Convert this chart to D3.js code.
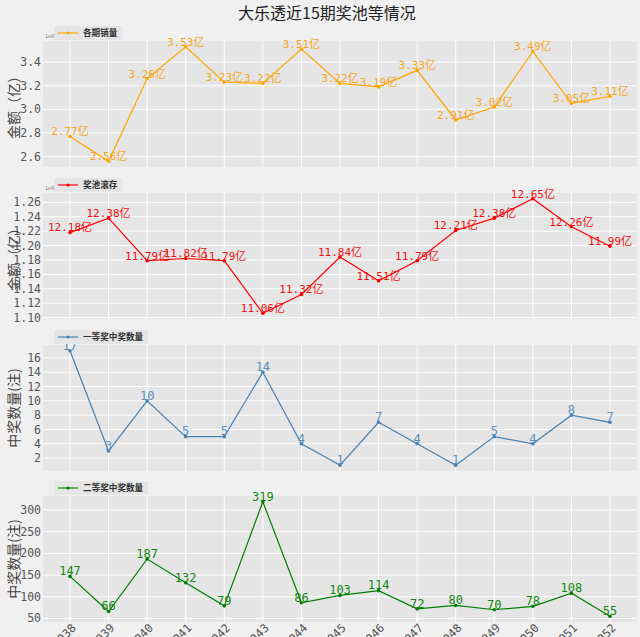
<!DOCTYPE html>
<html>
<head>
<meta charset="utf-8">
<script src="https://cdn.jsdelivr.net/npm/d3@7"></script>
<style>
  body { margin: 0; background: #f0f0f0; }
  svg { display: block; }
</style>
</head>
<body>
<svg></svg>
<script>
const WIDTH = 640, HEIGHT = 637;

// issue numbers
const issues = ["23038", "23039", "23040", "23041", "23042", "23043", "23044", "23045",
    "23046", "23047", "23048", "23049", "23050", "23051", "23052"];

// sales per issue, in 亿
const sales = [2.77, 2.56, 3.26, 3.53, 3.23, 3.22, 3.51, 3.22, 3.19, 3.33, 2.91, 3.02, 3.49, 3.05, 3.11];
// prize pool, in 亿
const pool = [12.18, 12.38, 11.79, 11.82, 11.79, 11.06, 11.32, 11.84, 11.51, 11.79, 12.21, 12.38, 12.65, 12.26, 11.99];
// first prize winners
const first = [17, 3, 10, 5, 5, 14, 4, 1, 7, 4, 1, 5, 4, 8, 7];
// second prize winners
const second = [147, 66, 187, 132, 79, 319, 86, 103, 114, 72, 80, 70, 78, 108, 55];

const salesTicks = [2.6, 2.8, 3.0, 3.2, 3.4];
const poolTicks = [11.0, 11.2, 11.4, 11.6, 11.8, 12.0, 12.2, 12.4, 12.6];
const firstTicks = [2, 4, 6, 8, 10, 12, 14, 16];
const secondTicks = [50, 100, 150, 200, 250, 300];

const MONO = "'DejaVu Sans Mono', 'Noto Sans CJK SC', monospace";
const CJK = "'Noto Sans CJK SC', sans-serif";

const panels = [
    {values: sales, ticks: salesTicks, tickFmt: d => d.toFixed(1), label: d => d.toFixed(2) + "亿",
     name: "各期销量", ylabel: "金额（亿）", color: "orange", textColor: "#f5a623", offset: "1e8", top: 41, labelSize: 11},
    {values: pool, ticks: poolTicks, tickFmt: d => (d / 10).toFixed(2), label: d => d.toFixed(2) + "亿",
     name: "奖池滚存", ylabel: "金额（亿）", color: "red", textColor: "#ee1111", offset: "1e9", top: 193, labelSize: 11},
    {values: first, ticks: firstTicks, tickFmt: d => d, label: d => d,
     name: "一等奖中奖数量", ylabel: "中奖数量(注)", color: "steelblue", textColor: "#5b8fbf", top: 345, labelSize: 12},
    {values: second, ticks: secondTicks, tickFmt: d => d, label: d => d,
     name: "二等奖中奖数量", ylabel: "中奖数量(注)", color: "green", textColor: "#118811", top: 496, labelSize: 12}
];

const left = 43, right = 637, panelH = 126;

const svg = d3.select("svg")
    .attr("width", WIDTH)
    .attr("height", HEIGHT)
    .style("background", "#f0f0f0");

svg.append("text")
    .attr("x", 327)
    .attr("y", 19)
    .attr("text-anchor", "middle")
    .style("font-family", CJK)
    .style("font-size", "16px")
    .style("fill", "#222")
    .text("大乐透近15期奖池等情况");

const x = d3.scaleLinear()
    .domain([-0.7, issues.length - 1 + 0.7])
    .range([left, right]);

panels.forEach((p, pi) => {
    const lo = d3.min(p.values), hi = d3.max(p.values);
    const pad = (hi - lo) * 0.05;
    const y = d3.scaleLinear()
        .domain([lo - pad, hi + pad])
        .range([p.top + panelH, p.top]);

    const g = svg.append("g");

    g.append("rect")
        .attr("x", left)
        .attr("y", p.top)
        .attr("width", right - left)
        .attr("height", panelH)
        .style("fill", "#e5e5e5");

    // grid
    g.selectAll("line.vgrid")
        .data(issues)
        .enter().append("line")
        .attr("x1", (d, i) => x(i))
        .attr("x2", (d, i) => x(i))
        .attr("y1", p.top)
        .attr("y2", p.top + panelH)
        .style("stroke", "#ffffff")
        .style("stroke-width", "1px");

    const ticks = p.ticks.filter(t => t >= y.domain()[0] && t <= y.domain()[1]);

    g.selectAll("line.hgrid")
        .data(ticks)
        .enter().append("line")
        .attr("x1", left)
        .attr("x2", right)
        .attr("y1", d => y(d))
        .attr("y2", d => y(d))
        .style("stroke", "#ffffff")
        .style("stroke-width", "1px");

    g.selectAll("text.ytick")
        .data(ticks)
        .enter().append("text")
        .attr("x", left - 2)
        .attr("y", d => y(d))
        .attr("dy", "0.35em")
        .attr("text-anchor", "end")
        .style("font-family", MONO)
        .style("font-size", "11.5px")
        .style("fill", "#555")
        .text(p.tickFmt);

    if (p.offset) {
        g.append("text")
            .attr("x", left + 2)
            .attr("y", p.top - 3)
            .style("font-family", MONO)
            .style("font-size", "5px")
            .style("fill", "#777")
            .text(p.offset);
    }

    g.append("text")
        .attr("transform", `translate(19, ${p.top + panelH / 2}) rotate(-90)`)
        .attr("text-anchor", "middle")
        .style("font-family", CJK)
        .style("font-size", "14px")
        .style("fill", "#444")
        .text(p.ylabel);

    const line = d3.line()
        .x((d, i) => x(i))
        .y(d => y(d));

    g.append("path")
        .datum(p.values)
        .attr("d", line)
        .style("fill", "none")
        .style("stroke", p.color)
        .style("stroke-width", "1.2px");

    g.selectAll("circle.pt")
        .data(p.values)
        .enter().append("circle")
        .attr("cx", (d, i) => x(i))
        .attr("cy", d => y(d))
        .attr("r", 1.8)
        .style("fill", p.color);

    g.selectAll("text.lbl")
        .data(p.values)
        .enter().append("text")
        .attr("x", (d, i) => x(i))
        .attr("y", d => y(d))
        .attr("dy", "-0.1em")
        .attr("text-anchor", "middle")
        .style("font-family", MONO)
        .style("font-size", p.labelSize + "px")
        .style("fill", p.textColor || p.color)
        .text(p.label);

    // legend
    const lg = g.append("g").attr("transform", `translate(54, ${p.top - 15})`);
    const legW = 30 + p.name.length * 8.6 + 4;
    lg.append("rect")
        .attr("width", legW)
        .attr("height", 14)
        .attr("rx", 1)
        .style("fill", "#e5e5e5");
    lg.append("line")
        .attr("x1", 4).attr("x2", 24)
        .attr("y1", 7).attr("y2", 7)
        .style("stroke", p.color)
        .style("stroke-width", "1.2px");
    lg.append("circle")
        .attr("cx", 14).attr("cy", 7).attr("r", 1.6)
        .style("fill", p.color);
    lg.append("text")
        .attr("x", 29)
        .attr("y", 7)
        .attr("dy", "0.35em")
        .style("font-family", CJK)
        .style("font-size", "8.6px")
        .style("font-weight", "bold")
        .style("fill", "#333")
        .text(p.name);

    if (pi === panels.length - 1) {
        g.selectAll("text.xtick")
            .data(issues)
            .enter().append("text")
            .attr("transform", (d, i) => `translate(${x(i) + 1}, ${p.top + panelH + 1}) rotate(-45)`)
            .attr("text-anchor", "end")
            .attr("dy", "0.7em")
            .style("font-family", MONO)
            .style("font-size", "11.5px")
            .style("fill", "#555")
            .text(d => d);
    }
});
</script>
</body>
</html>
